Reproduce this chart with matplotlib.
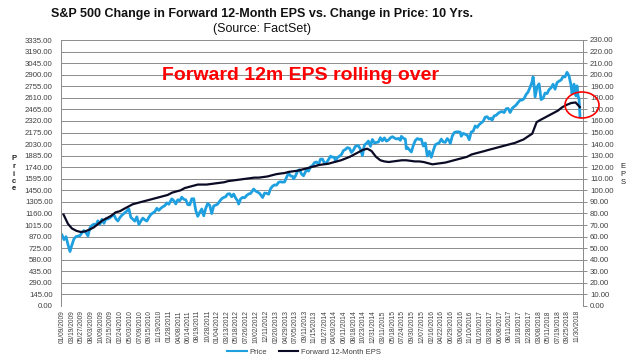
import matplotlib
matplotlib.use("Agg")
import matplotlib.pyplot as plt
import numpy as np
import pandas as pd
from matplotlib.patches import Ellipse
from matplotlib.lines import Line2D

plt.rcParams['font.family'] = ['Liberation Sans', 'DejaVu Sans']

# S&P 500 price (roughly bi-weekly readings)
price_dates = [
    "2009-01-09", "2009-01-23", "2009-02-06", "2009-02-20", "2009-03-06", "2009-03-20", "2009-04-03", "2009-04-17",
    "2009-05-01", "2009-05-15", "2009-05-29", "2009-06-12", "2009-06-26", "2009-07-10", "2009-07-24", "2009-08-07",
    "2009-08-21", "2009-09-04", "2009-09-18", "2009-10-02", "2009-10-16", "2009-10-30", "2009-11-13", "2009-11-27",
    "2009-12-11", "2009-12-24",
    "2010-01-08", "2010-01-22", "2010-02-05", "2010-02-19", "2010-03-05", "2010-03-19", "2010-04-02", "2010-04-23",
    "2010-05-07", "2010-05-21", "2010-06-04", "2010-06-18", "2010-07-02", "2010-07-16", "2010-07-30", "2010-08-13",
    "2010-08-27", "2010-09-10", "2010-09-24", "2010-10-08", "2010-10-22", "2010-11-05", "2010-11-19", "2010-12-03",
    "2010-12-17", "2010-12-31",
    "2011-01-14", "2011-01-28", "2011-02-18", "2011-03-04", "2011-03-18", "2011-04-01", "2011-04-15", "2011-04-29",
    "2011-05-13", "2011-05-27", "2011-06-10", "2011-06-24", "2011-07-08", "2011-07-22", "2011-08-05", "2011-08-19",
    "2011-09-02", "2011-09-16", "2011-09-30", "2011-10-14", "2011-10-28", "2011-11-11", "2011-11-25", "2011-12-09",
    "2011-12-23",
    "2012-01-06", "2012-01-20", "2012-02-03", "2012-02-17", "2012-03-02", "2012-03-16", "2012-03-30", "2012-04-13",
    "2012-04-27", "2012-05-11", "2012-05-25", "2012-06-01", "2012-06-15", "2012-06-29", "2012-07-13", "2012-07-27",
    "2012-08-10", "2012-08-24", "2012-09-14", "2012-09-28", "2012-10-12", "2012-10-26", "2012-11-16", "2012-11-30",
    "2012-12-14", "2012-12-28",
    "2013-01-11", "2013-01-25", "2013-02-08", "2013-02-22", "2013-03-08", "2013-03-22", "2013-04-05", "2013-04-19",
    "2013-05-03", "2013-05-17", "2013-05-31", "2013-06-14", "2013-06-21", "2013-07-05", "2013-07-19", "2013-08-02",
    "2013-08-16", "2013-08-30", "2013-09-20", "2013-10-04", "2013-10-18", "2013-11-01", "2013-11-15", "2013-11-29",
    "2013-12-13", "2013-12-27",
    "2014-01-10", "2014-01-24", "2014-02-07", "2014-02-21", "2014-03-07", "2014-03-21", "2014-04-04", "2014-04-11",
    "2014-04-25", "2014-05-09", "2014-05-23", "2014-06-06", "2014-06-20", "2014-07-03", "2014-07-18", "2014-08-01",
    "2014-08-15", "2014-08-29", "2014-09-19", "2014-10-03", "2014-10-17", "2014-10-31", "2014-11-14", "2014-11-28",
    "2014-12-12", "2014-12-26",
    "2015-01-09", "2015-01-23", "2015-02-06", "2015-02-20", "2015-03-06", "2015-03-20", "2015-04-03", "2015-04-17",
    "2015-05-01", "2015-05-15", "2015-05-29", "2015-06-12", "2015-06-26", "2015-07-10", "2015-07-17", "2015-07-31",
    "2015-08-14", "2015-08-21", "2015-08-28", "2015-09-11", "2015-09-25", "2015-10-09", "2015-10-23", "2015-11-06",
    "2015-11-20", "2015-12-04", "2015-12-18",
    "2016-01-01", "2016-01-15", "2016-01-29", "2016-02-12", "2016-02-26", "2016-03-11", "2016-03-25", "2016-04-08",
    "2016-04-22", "2016-05-06", "2016-05-20", "2016-06-03", "2016-06-17", "2016-06-24", "2016-07-08", "2016-07-22",
    "2016-08-05", "2016-08-19", "2016-09-02", "2016-09-09", "2016-09-23", "2016-10-07", "2016-10-21", "2016-11-04",
    "2016-11-18", "2016-12-02", "2016-12-16", "2016-12-30",
    "2017-01-13", "2017-01-27", "2017-02-10", "2017-02-24", "2017-03-10", "2017-03-24", "2017-04-07", "2017-04-13",
    "2017-04-28", "2017-05-12", "2017-05-26", "2017-06-09", "2017-06-23", "2017-07-07", "2017-07-21", "2017-08-04",
    "2017-08-18", "2017-09-01", "2017-09-15", "2017-09-29", "2017-10-13", "2017-10-27", "2017-11-10", "2017-11-24",
    "2017-12-08", "2017-12-22",
    "2018-01-05", "2018-01-19", "2018-01-26", "2018-02-02", "2018-02-09", "2018-02-23", "2018-03-09", "2018-03-23",
    "2018-04-06", "2018-04-20", "2018-05-04", "2018-05-18", "2018-06-01", "2018-06-15", "2018-06-29", "2018-07-13",
    "2018-07-27", "2018-08-10", "2018-08-24", "2018-09-07", "2018-09-21", "2018-10-05", "2018-10-19", "2018-10-26",
    "2018-11-09", "2018-11-23", "2018-11-30", "2018-12-07", "2018-12-14", "2018-12-21",
]
price_values = [
    890, 832, 869, 770, 683, 768, 842, 869, 877, 882, 919, 946, 918, 879, 979, 1010,
    1026, 1016, 1068, 1025, 1087, 1036, 1093, 1091, 1106, 1126,
    1145, 1092, 1066, 1109, 1138, 1160, 1179, 1217, 1111, 1087, 1064, 1118, 1022, 1065, 1102, 1079,
    1065, 1110, 1148, 1166, 1183, 1225, 1199, 1225, 1244, 1258,
    1293, 1276, 1343, 1321, 1279, 1332, 1320, 1364, 1338, 1331, 1271, 1268, 1344, 1345, 1199, 1124,
    1174, 1216, 1131, 1224, 1285, 1263, 1159, 1255, 1265,
    1278, 1315, 1345, 1361, 1370, 1404, 1408, 1370, 1403, 1353, 1318, 1278, 1343, 1362, 1357, 1386,
    1405, 1411, 1466, 1441, 1428, 1412, 1360, 1416, 1413, 1402,
    1472, 1503, 1518, 1516, 1551, 1557, 1553, 1555, 1614, 1667, 1631, 1626, 1593, 1632, 1692, 1709,
    1655, 1633, 1710, 1691, 1744, 1762, 1798, 1806, 1775, 1841,
    1842, 1790, 1797, 1836, 1878, 1866, 1865, 1815, 1863, 1878, 1900, 1949, 1963, 1985, 1978, 1925,
    1955, 2003, 2010, 1967, 1886, 2018, 2039, 2068, 2002, 2088,
    2044, 2051, 2055, 2110, 2071, 2108, 2067, 2081, 2108, 2123, 2107, 2094, 2101, 2077, 2127, 2104,
    2092, 1971, 1989, 1961, 1931, 2014, 2075, 2099, 2089, 2092, 2006,
    2044, 1880, 1940, 1865, 1948, 2022, 2035, 2048, 2092, 2057, 2052, 2099, 2071, 2037, 2130, 2175,
    2183, 2184, 2180, 2128, 2165, 2153, 2141, 2085, 2182, 2192, 2258, 2239,
    2275, 2295, 2316, 2367, 2373, 2344, 2355, 2329, 2384, 2391, 2416, 2432, 2438, 2425, 2473, 2477,
    2426, 2477, 2500, 2519, 2553, 2581, 2582, 2602, 2652, 2683,
    2743, 2810, 2873, 2762, 2620, 2747, 2786, 2588, 2604, 2670, 2663, 2713, 2735, 2780, 2718, 2801,
    2819, 2833, 2875, 2872, 2930, 2886, 2768, 2659, 2781, 2633, 2760, 2633, 2600, 2370,
]

# Forward 12-month EPS, monthly readings (Jan 2009 .. Dec 2018)
eps_values = [
    79, 71, 67, 65, 64, 64.5, 66, 68, 71, 74, 76, 78,
    81, 82, 84, 86, 88, 89, 90, 91, 92, 93, 94, 95,
    96, 98, 99, 100, 102, 103, 104, 105, 105, 105, 105.5, 106,
    106.5, 107, 108, 108.5, 109, 109.5, 110, 110.5, 111, 111, 111.5, 112,
    113, 114, 114.5, 115, 116, 116.5, 117, 118, 119, 120, 121, 122,
    122.5, 123, 124, 125, 126, 127.5, 129, 131, 133, 135, 136, 134,
    129, 126, 125, 124.5, 125, 125.5, 126, 126, 125.5, 125, 125, 124.5,
    123.5, 122.5, 123, 123.5, 124, 125, 126, 127, 128, 129, 131, 132,
    133, 134, 135, 136, 137, 138, 139, 140, 141, 142.5, 144, 146.5,
    149, 159, 161, 163, 165, 167, 169, 172, 174, 175.5, 176, 172,
]
eps_dates = pd.date_range("2009-01-01", "2018-12-01", freq="MS") + pd.Timedelta(days=19)

tick_labels = [
    "01/09/2009", "03/19/2009", "05/27/2009", "08/03/2009", "10/09/2009", "12/15/2009", "02/24/2010",
    "05/03/2010", "07/09/2010", "09/15/2010", "11/19/2010", "01/28/2011", "04/08/2011", "06/14/2011",
    "08/19/2011", "10/28/2011", "01/04/2012", "03/13/2012", "05/18/2012", "07/26/2012", "10/02/2012",
    "12/11/2012", "02/20/2013", "04/29/2013", "07/05/2013", "09/11/2013", "11/15/2013", "01/27/2014",
    "04/03/2014", "06/11/2014", "08/18/2014", "10/23/2014", "12/31/2014", "03/11/2015", "05/18/2015",
    "07/24/2015", "09/30/2015", "12/07/2015", "02/16/2016", "04/22/2016", "06/29/2016", "09/06/2016",
    "11/10/2016", "01/20/2017", "03/28/2017", "06/08/2017", "08/11/2017", "10/18/2017", "12/28/2017",
    "03/08/2018", "05/11/2018", "07/19/2018", "09/25/2018", "11/30/2018",
]

price_color = '#1ea0e0'
eps_color = '#0b0b26'
grid_color = '#8c8c8c'
text_color = '#404040'

fig = plt.figure(figsize=(6.4, 3.62), dpi=100)
ax = fig.add_axes([61 / 640, 56 / 362, 522 / 640, 266 / 362])
ax2 = ax.twinx()

ax.plot(pd.to_datetime(price_dates), price_values, color=price_color, lw=2.0)
ax2.plot(eps_dates, eps_values, color=eps_color, lw=1.6)

ax.set_ylim(0, 3335)
ax2.set_ylim(0, 230)
ax.set_yticks(np.arange(0, 3336, 145))
ax.set_yticklabels([f"{v:.2f}" for v in np.arange(0, 3336, 145)])
ax2.set_yticks(np.arange(0, 231, 10))
ax2.set_yticklabels([f"{v:.2f}" for v in np.arange(0, 231, 10)])

ax.set_xlim(pd.Timestamp("2009-01-02"), pd.Timestamp("2019-01-11"))
tick_dates = pd.to_datetime(tick_labels, format="%m/%d/%Y")
ax.set_xticks(tick_dates)
ax.set_xticklabels(tick_labels, rotation=90, fontsize=4.8, color=text_color)
ax.tick_params(axis='x', length=0, pad=3)
ax.tick_params(axis='y', length=0, pad=6, labelsize=5.6, labelcolor=text_color)
ax2.tick_params(axis='y', length=3, width=0.7, color=grid_color, pad=2, labelsize=5.6, labelcolor=text_color)

ax.yaxis.grid(True, color=grid_color, lw=0.7)
ax.set_axisbelow(True)
for a in (ax, ax2):
    a.spines['top'].set_visible(False)
    a.spines['bottom'].set_visible(False)
    a.spines['left'].set_color(grid_color)
    a.spines['right'].set_color(grid_color)
    a.spines['left'].set_linewidth(0.7)
    a.spines['right'].set_linewidth(0.7)

fig.text(262 / 640, 1 - 14 / 362, "S&P 500 Change in Forward 12-Month EPS vs. Change in Price: 10 Yrs.",
         ha='center', va='center', fontsize=9, fontweight='bold', color='#111111')
fig.text(262 / 640, 1 - 29 / 362, "(Source: FactSet)", ha='center', va='center', fontsize=9, color='#111111')

fig.text(301 / 640, 1 - 75 / 362, "Forward 12m EPS rolling over", ha='center', va='center',
         fontsize=14, fontweight='bold', color='#ff0000')

fig.text(14 / 640, 1 - 174 / 362, "P\nr\ni\nc\ne", ha='center', va='center', fontsize=5.5,
         fontweight='bold', color='#222222', linespacing=1.1)
fig.text(623 / 640, 1 - 174 / 362, "E\nP\nS", ha='center', va='center', fontsize=5.5,
         color='#222222', linespacing=1.2)

circle = Ellipse((582 / 640, 1 - 105 / 362), 34 / 640, 26 / 362, transform=fig.transFigure,
                 fill=False, edgecolor='#ff0000', lw=1.2)
fig.patches.append(circle)

handles = [Line2D([], [], color=price_color, lw=1.5), Line2D([], [], color=eps_color, lw=1.5)]
fig.legend(handles, ["Price", "Forward 12-Month EPS"], loc='center', bbox_to_anchor=(304 / 640, 1 - 352 / 362),
           ncol=2, frameon=False, fontsize=5.5, handlelength=2.6, handletextpad=0.3, columnspacing=1.5,
           labelcolor=text_color)

fig.savefig("out.png", dpi=100)
